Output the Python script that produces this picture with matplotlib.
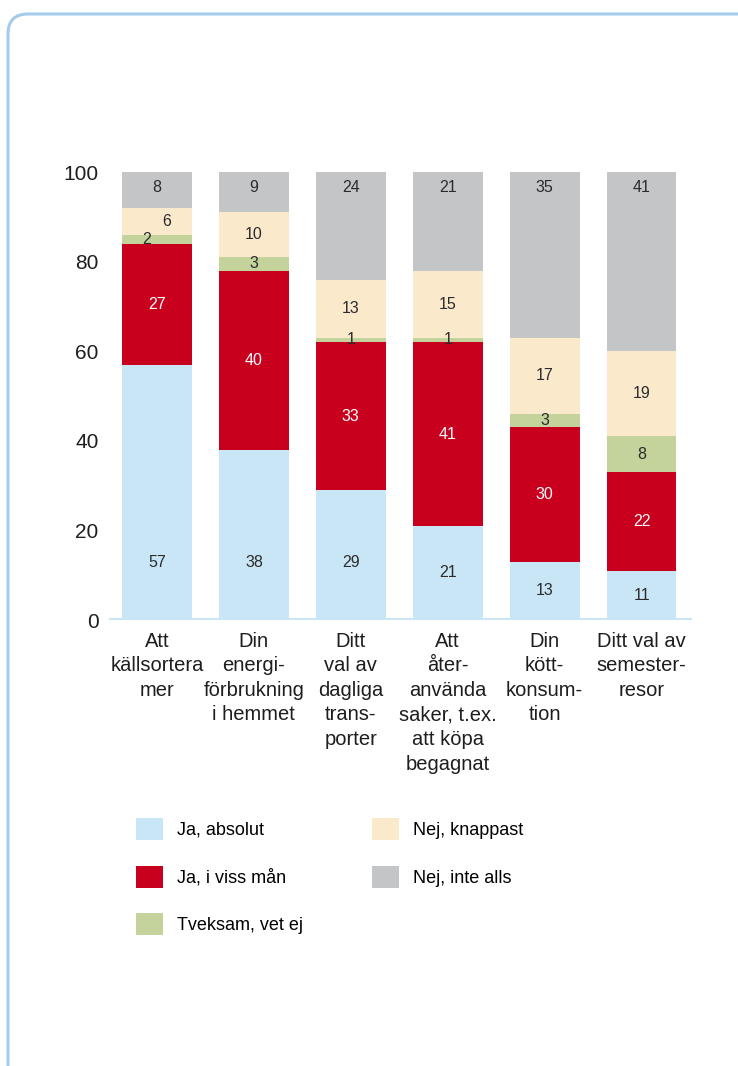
# -*- coding: utf-8 -*-
# Stacked bar chart: klimatvanor (andel i procent)
import numpy as np
import matplotlib
matplotlib.use('Agg')
import matplotlib.pyplot as plt
from matplotlib.patches import FancyBboxPatch, Patch
from matplotlib.transforms import IdentityTransform

plt.rcParams['font.family'] = ['Liberation Sans', 'DejaVu Sans']

categories = ['Att\nkällsortera\nmer',
              'Din\nenergi-\nförbrukning\ni hemmet',
              'Ditt\nval av\ndagliga\ntrans-\nporter',
              'Att\nåter-\nanvända\nsaker, t.ex.\natt köpa\nbegagnat',
              'Din\nkött-\nkonsum-\ntion',
              'Ditt val av\nsemester-\nresor']

ja_absolut = [57, 38, 29, 21, 13, 11]
ja_viss_man = [27, 40, 33, 41, 30, 22]
tveksam = [2, 3, 1, 1, 3, 8]
nej_knappast = [6, 10, 13, 15, 17, 19]
nej_inte_alls = [8, 9, 24, 21, 35, 41]

series_names = ['Ja, absolut', 'Ja, i viss mån', 'Tveksam, vet ej',
                'Nej, knappast', 'Nej, inte alls']
series = [ja_absolut, ja_viss_man, tveksam, nej_knappast, nej_inte_alls]
colors = ['#c9e6f6', '#c8001e', '#c3d39b', '#fbe9cc', '#c4c5c7']
text_colors = ['#2b2b2b', 'white', '#2b2b2b', '#2b2b2b', '#2b2b2b']

fig = plt.figure(figsize=(7.38, 10.66), dpi=100)
ax = fig.add_axes([109/738, 446/1066, 583/738, 448/1066])

x = np.arange(len(categories))
bottom = np.zeros(len(categories))
for i, (vals, c) in enumerate(zip(series, colors)):
    vals = np.array(vals, dtype=float)
    # the original bars are all filled up to 100
    heights = 100 - bottom if i == len(series) - 1 else vals
    ax.bar(x, heights, bottom=bottom, width=0.72, color=c, linewidth=0)
    for j in range(len(x)):
        xp = x[j]
        yp = bottom[j] + heights[j] / 2
        if i == 0:
            yp = min(yp, 12.8)
        if i == len(series) - 1:
            yp = 96.6
        if j == 0 and i == 2:
            xp -= 0.11
        if j == 0 and i == 3:
            xp += 0.1
        ax.text(xp, yp, '%d' % vals[j], ha='center', va='center',
                fontsize=11.5, color=text_colors[i])
    bottom = bottom + heights

ax.axhline(0, color='#c9e6f6', linewidth=3, zorder=3)

ax.set_xlim(-0.495, 5.52)
ax.set_ylim(0, 100)
ax.set_yticks(range(0, 101, 20))
ax.set_xticks(x)
ax.set_xticklabels(categories, fontsize=14.5, linespacing=1.37, color='#1e1e1e')
ax.tick_params(axis='y', length=0, pad=7.5, labelsize=15, labelcolor='#1e1e1e')
ax.tick_params(axis='x', length=0, pad=8.5)
for s in ax.spines.values():
    s.set_visible(False)

handles = [Patch(facecolor=c, edgecolor='none') for c in colors]
fig.legend(handles, series_names, ncol=2, loc='upper left',
           bbox_to_anchor=(136/738, 1 - 818/1066), frameon=False,
           fontsize=13, handlelength=1.5, handleheight=1.5,
           handletextpad=0.75, labelspacing=1.42, columnspacing=3.85,
           borderpad=0, borderaxespad=0)

border = FancyBboxPatch((8, -40), 780, 1092, boxstyle='round,pad=0,rounding_size=20',
                        transform=IdentityTransform(), fill=False,
                        edgecolor='#a4cbea', linewidth=2.2)
fig.add_artist(border)

fig.savefig('out.png', dpi=100)
